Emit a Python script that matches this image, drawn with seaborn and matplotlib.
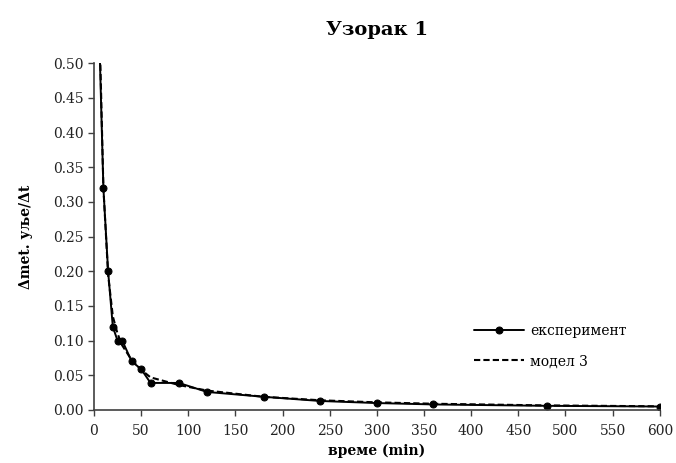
import matplotlib
matplotlib.use("Agg")
import matplotlib.pyplot as plt
import seaborn as sns
import pandas as pd
import numpy as np

time_min = [5, 10, 15, 20, 25, 30, 40, 50, 60, 90, 120, 180, 240, 300, 360, 480, 600]
experiment = [0.57, 0.32, 0.20, 0.12, 0.10, 0.10, 0.07, 0.059, 0.039, 0.039, 0.026, 0.019, 0.013, 0.010, 0.008, 0.006, 0.005]
model3 = [0.60, 0.32, 0.195, 0.135, 0.11, 0.093, 0.072, 0.058, 0.047, 0.036, 0.028, 0.019, 0.014, 0.011, 0.009, 0.0066, 0.0053]

title = "Узорак 1"
xlabel = "време (min)"
ylabel = "Δmet. уље/Δt"
label_exp = "експеримент"
label_mod = "модел 3"

sns.set_theme(style="ticks")
plt.rcParams['font.family'] = ['DejaVu Serif']
plt.rcParams['text.color'] = 'black'
plt.rcParams['axes.labelcolor'] = 'black'
plt.rcParams['xtick.color'] = 'black'
plt.rcParams['ytick.color'] = 'black'

df = pd.DataFrame({"t": time_min, "exp": experiment, "mod": model3})

fig = plt.figure(figsize=(6.76, 4.63), dpi=100)
ax = fig.add_axes([0.139, 0.1145, 0.837, 0.749])

sns.lineplot(data=df, x="t", y="exp", ax=ax, color="black", linewidth=1.4,
             marker="o", markersize=5, markeredgecolor="black", label=label_exp)
sns.lineplot(data=df, x="t", y="mod", ax=ax, color="black", linewidth=1.5,
             linestyle=(0, (3, 1.5)), label=label_mod)

ax.set_xlim(0, 600)
ax.set_ylim(0, 0.5)
ax.set_xticks(np.arange(0, 601, 50))
ax.set_yticks(np.arange(0, 0.501, 0.05))
ax.set_yticklabels([f"{v:.2f}" for v in np.arange(0, 0.501, 0.05)])
ax.tick_params(axis="both", labelsize=10, direction="out", length=4, width=1,
               color="#404040", labelcolor="#222222")
ax.tick_params(axis="x", pad=6)
for s in ["left", "bottom"]:
    ax.spines[s].set_color("#404040")
    ax.spines[s].set_linewidth(1.2)
sns.despine(ax=ax)

ax.set_title(title, fontsize=14, fontweight="bold", pad=20, color="black")
ax.set_xlabel(xlabel, fontsize=10, fontweight="bold", labelpad=4)
ax.set_ylabel(ylabel, fontsize=10, fontweight="bold", labelpad=14)

ax.legend(loc="upper left", bbox_to_anchor=(0.65, 0.285), frameon=False, fontsize=10,
          handlelength=3.6, labelspacing=1.2, handletextpad=0.4)

fig.savefig("out.png", dpi=100)
